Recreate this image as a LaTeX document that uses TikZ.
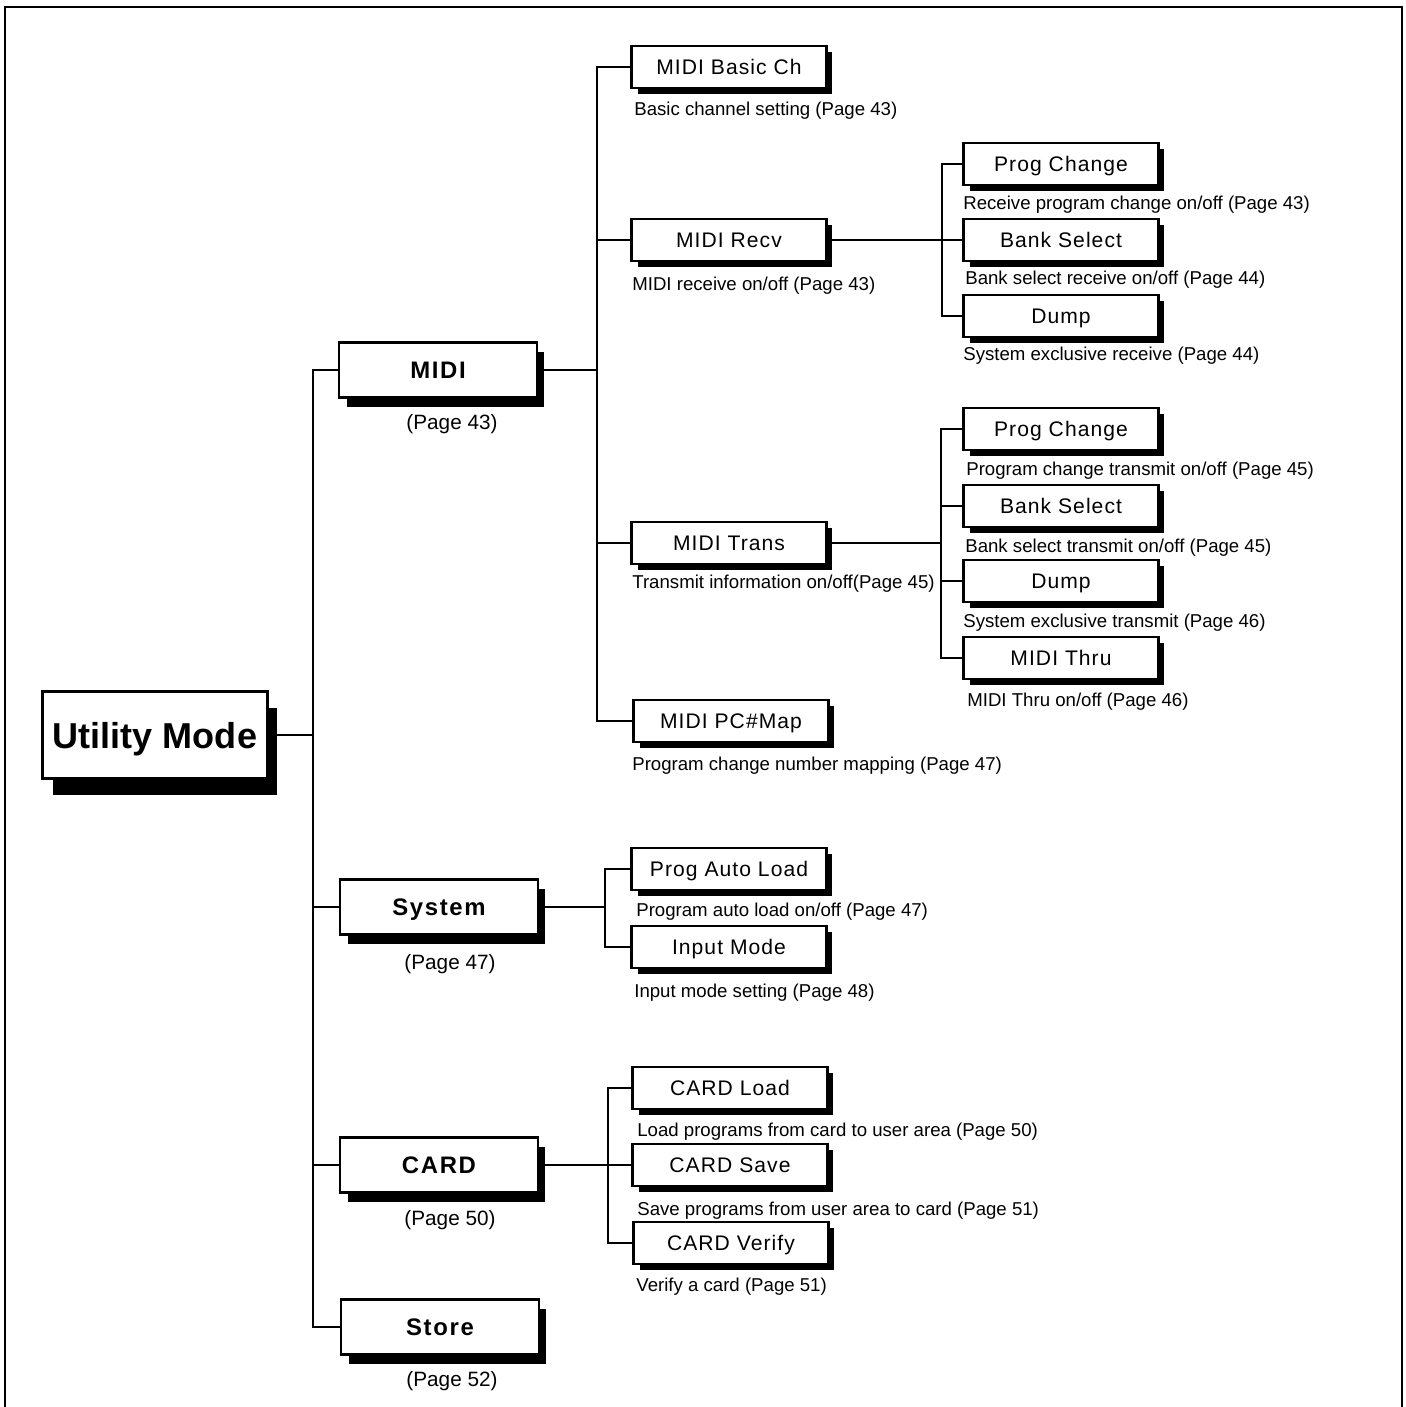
\documentclass[tikz,border=0pt]{standalone}
\usepackage{fontspec}
\setmainfont{Liberation Sans}
\usepackage{tikz}
\usetikzlibrary{positioning, shadows}
\newcommand{\modefont}{\fontsize{20.5}{24}\selectfont\bfseries}
\newcommand{\groupfont}{\fontsize{13.6}{16}\selectfont\bfseries\addfontfeatures{LetterSpace=7}}
\newcommand{\itemfont}{\fontsize{12}{14}\selectfont\addfontfeatures{LetterSpace=5}}
\newcommand{\descfont}{\fontsize{10.6}{12}\selectfont}
\newcommand{\pagefont}{\fontsize{11.8}{14}\selectfont}

\begin{document}
\begin{tikzpicture}[x=0.02cm, y=-0.02cm,
  modebox/.style={draw, line width=1.7pt, fill=white, font=\modefont, text depth=0pt,
    minimum width=4.5cm, minimum height=1.74cm,
    drop shadow={shadow xshift=0.2cm, shadow yshift=-0.32cm, opacity=1, fill=black}},
  groupbox/.style={draw, line width=1.3pt, fill=white, font=\groupfont, text depth=0pt,
    minimum width=3.96cm, minimum height=1.1cm,
    drop shadow={shadow xshift=0.15cm, shadow yshift=-0.18cm, opacity=1, fill=black}},
  itembox/.style={draw, line width=1.3pt, fill=white, font=\itemfont, text depth=0pt,
    minimum width=3.9cm, minimum height=0.84cm,
    drop shadow={shadow xshift=0.12cm, shadow yshift=-0.12cm, opacity=1, fill=black}},
  desc/.style={anchor=west, inner sep=0pt, font=\descfont, yshift=-0.05cm},
  pagelbl/.style={inner sep=0pt, font=\pagefont, yshift=-0.04cm},
  link/.style={line width=1.1pt}]
  \useasboundingbox (0,0) rectangle (1406,1407);
  \draw[line width=1.2pt] (5,1407) -- (5,7) -- (1402,7) -- (1402,1407);

  % bus positions
  \coordinate (busA) at (313,0);
  \coordinate (busB) at (597,0);
  \coordinate (busC) at (942,0);
  \coordinate (busD) at (941,0);
  \coordinate (busE) at (605,0);
  \coordinate (busF) at (608,0);

  \node[modebox] (util) at (155,735) {Utility Mode};

  \node[groupbox] (midi)   at (438,370)  {MIDI};
  \node[groupbox] (system) at (439,907)  {System};
  \node[groupbox] (card)   at (439,1165) {CARD};
  \node[groupbox] (store)  at (440,1327) {Store};
  \node[pagelbl] (pmidi)   at (452,422)  {(Page 43)};
  \node[pagelbl] (psystem) at (450,962)  {(Page 47)};
  \node[pagelbl] (pcard)   at (450,1218) {(Page 50)};
  \node[pagelbl] (pstore)  at (452,1379) {(Page 52)};

  \node[itembox] (basic)   at (729,67)   {MIDI Basic Ch};
  \node[itembox] (recv)    at (729,240)  {MIDI Recv};
  \node[itembox] (trans)   at (729,543)  {MIDI Trans};
  \node[itembox] (pcmap)   at (731,721)  {MIDI PC\#Map};
  \node[itembox] (autold)  at (729,869)  {Prog Auto Load};
  \node[itembox] (inmode)  at (729,947)  {Input Mode};
  \node[itembox] (cload)   at (730,1088) {CARD Load};
  \node[itembox] (csave)   at (730,1165) {CARD Save};
  \node[itembox] (cverify) at (731,1243) {CARD Verify};

  \node[itembox] (rprog) at (1061,164) {Prog Change};
  \node[itembox] (rbank) at (1061,240) {Bank Select};
  \node[itembox] (rdump) at (1061,316) {Dump};
  \node[itembox] (tprog) at (1061,429) {Prog Change};
  \node[itembox] (tbank) at (1061,506) {Bank Select};
  \node[itembox] (tdump) at (1061,581) {Dump};
  \node[itembox] (tthru) at (1061,658) {MIDI Thru};

  % x-left, y, text
  \foreach \x/\y/\txt [count=\i] in {634/108/{Basic channel setting (Page 43)},
      632/283/{MIDI receive on/off (Page 43)}, 632/581/{Transmit information on/off(Page 45)},
      632/763/{Program change number mapping (Page 47)},
      963/202/{Receive program change on/off (Page 43)}, 965/277/{Bank select receive on/off (Page 44)},
      963/353/{System exclusive receive (Page 44)},
      966/468/{Program change transmit on/off (Page 45)}, 965/545/{Bank select transmit on/off (Page 45)},
      963/620/{System exclusive transmit (Page 46)}, 967/699/{MIDI Thru on/off (Page 46)},
      636/909/{Program auto load on/off (Page 47)}, 634/990/{Input mode setting (Page 48)},
      637/1129/{Load programs from card to user area (Page 50)},
      637/1208/{Save programs from user area to card (Page 51)}, 636/1284/{Verify a card (Page 51)}} {
    \node[desc] (desc\i) at (\x,\y) {\txt};
  }

  % connectors
  \draw[link] (util.east) -- (util.east -| busA);
  \draw[link] (midi.west) -| (busA |- store.west) -- (store.west);
  \foreach \n in {system, card}
    \draw[link] (\n.west) -- (\n.west -| busA);

  \draw[link] (midi.east) -- (midi.east -| busB);
  \draw[link] (basic.west) -| (busB |- pcmap.west) -- (pcmap.west);
  \foreach \n in {recv, trans}
    \draw[link] (\n.west) -- (\n.west -| busB);

  \draw[link] (recv.east) -- (rbank.west);
  \draw[link] (rprog.west) -| (busC |- rdump.west) -- (rdump.west);

  \draw[link] (trans.east) -- (trans.east -| busD);
  \draw[link] (tprog.west) -| (busD |- tthru.west) -- (tthru.west);
  \foreach \n in {tbank, tdump}
    \draw[link] (\n.west) -- (\n.west -| busD);

  \draw[link] (system.east) -- (system.east -| busE);
  \draw[link] (autold.west) -| (busE |- inmode.west) -- (inmode.west);

  \draw[link] (card.east) -- (csave.west);
  \draw[link] (cload.west) -| (busF |- cverify.west) -- (cverify.west);
\end{tikzpicture}
\end{document}
